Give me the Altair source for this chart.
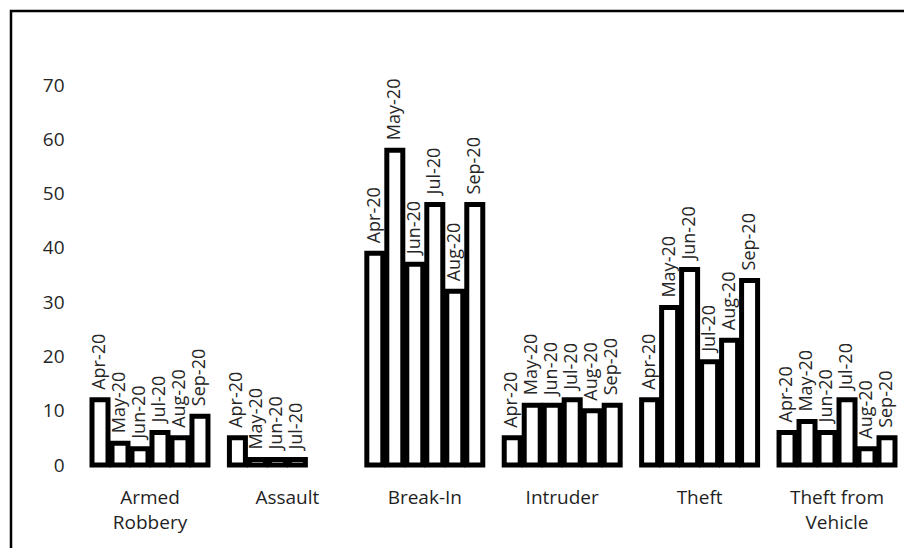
import altair as alt
import pandas as pd

categories = ["Armed Robbery", "Assault", "Break-In", "Intruder", "Theft", "Theft from Vehicle"]
months = ["Apr-20", "May-20", "Jun-20", "Jul-20", "Aug-20", "Sep-20"]
armed_robbery = [12, 4, 3, 6, 5, 9]
assault = [5, 1, 1, 1, None, None]
break_in = [39, 58, 37, 48, 32, 48]
intruder = [5, 11, 11, 12, 10, 11]
theft = [12, 29, 36, 19, 23, 34]
theft_from_vehicle = [6, 8, 6, 12, 3, 5]
y_ticks = [0, 10, 20, 30, 40, 50, 60, 70]

series = [armed_robbery, assault, break_in, intruder, theft, theft_from_vehicle]
rows = []
for cat, vals in zip(categories, series):
    for m, v in zip(months, vals):
        if v is not None:
            rows.append({"category": cat, "month": m, "value": v})
df = pd.DataFrame(rows)

W, H = 821, 380
FONT = "Open Sans"

x = alt.X(
    "category:N",
    sort=categories,
    scale=alt.Scale(paddingInner=0.127, paddingOuter=0.051),
    axis=alt.Axis(
        title=None, labelAngle=0, domain=False, ticks=False, grid=False,
        labelFont=FONT, labelFontSize=19, labelColor="#1f1f1f",
        labelPadding=23, labelLineHeight=25,
        labelExpr="datum.label == 'Armed Robbery' ? ['Armed', 'Robbery'] : "
                  "datum.label == 'Theft from Vehicle' ? ['Theft from', 'Vehicle'] : datum.label",
    ),
)
xo = alt.XOffset(
    "month:N", sort=months,
    scale=alt.Scale(domain=months, paddingInner=0.2, paddingOuter=0.1),
)
y = alt.Y(
    "value:Q",
    scale=alt.Scale(domain=[0, 70], nice=False, zero=True),
    axis=alt.Axis(
        values=y_ticks, title=None, domain=False, ticks=False, grid=False,
        labelFont=FONT, labelFontSize=19, labelPadding=19, labelColor="#262626",
    ),
)

bars = alt.Chart(df).mark_bar(
    fill="white", stroke="black", strokeWidth=5, strokeJoin="miter"
).encode(x=x, xOffset=xo, y=y)

labels = alt.Chart(df).mark_text(
    angle=270, align="left", baseline="middle", dx=10,
    font=FONT, fontSize=18, color="#262626",
).encode(x=x, xOffset=xo, y=y, text="month:N")

frame = alt.Chart(alt.Data(values=[{}])).mark_rect(
    fill=None, stroke="black", strokeWidth=2.5
).encode(
    x=alt.value(-72), x2=alt.value(W + 40),
    y=alt.value(-74), y2=alt.value(H + 120),
)

chart = alt.layer(bars, labels, frame).properties(
    width=W, height=H,
    background="white",
    autosize=alt.AutoSizeParams(type="none"),
    padding={"left": 75, "top": 77, "right": 0, "bottom": 83},
).configure_view(stroke=None, strokeWidth=0)

chart.save("out.html", embed_options={"renderer": "svg", "actions": False})
